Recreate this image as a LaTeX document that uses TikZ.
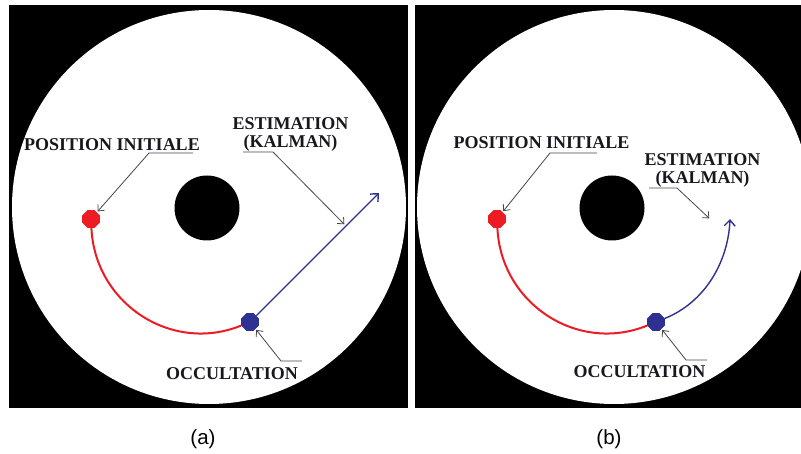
\documentclass[tikz,border=0pt]{standalone}
\usepackage{fontspec}
\setmainfont{Liberation Serif}
\newfontfamily\capfont{Liberation Sans}
\usepackage{tikz}
\usetikzlibrary{positioning, arrows.meta, shapes.geometric}
\definecolor{dotred}{RGB}{237,28,36}
\definecolor{dotblue}{RGB}{46,49,146}
\definecolor{leadgray}{RGB}{70,70,70}
\definecolor{labelink}{RGB}{25,22,30}

\begin{document}
\begin{tikzpicture}[x=1pt, y=1pt,
  reddot/.style={regular polygon, regular polygon sides=8, fill=dotred,
                 minimum size=19pt, inner sep=0pt},
  bluedot/.style={reddot, fill=dotblue},
  redpath/.style={draw=dotred, line width=2pt},
  bluepath/.style={draw=dotblue, line width=1.4pt,
                   -{Straight Barb[length=6pt, width=11pt]}},
  lead/.style={draw=leadgray, line width=0.8pt, shorten >=1pt,
               -{Straight Barb[length=5pt, width=9pt]}},
  lbl/.style={font=\fontsize{18}{18}\selectfont\bfseries, text=labelink,
              inner sep=0pt, align=center},
  subcap/.style={font=\capfont\fontsize{20.5}{24}\selectfont, inner sep=0pt, anchor=base}
]
\useasboundingbox (0,0) rectangle (801,453);

\fill[black] (9,45) rectangle (408,448);
\fill[white] (209,246) circle[radius=197];
\fill[black] (207,245) circle[radius=32.5];

\fill[black] (415,45) rectangle (801,448);
\fill[white] (614,246) circle[radius=197];
\fill[black] (612,245) circle[radius=32.5];

\node[reddot]  (inia) at (91,234) {};
\node[bluedot] (occa) at (250,131) {};
\coordinate (tipa) at (379,260);
\coordinate (esta) at (345,228);

\node[reddot]  (inib) at (497,234) {};
\node[bluedot] (occb) at (656,131) {};
\coordinate (tipb) at (730,234);
\coordinate (estb) at (710,234);

\draw[redpath]  (inia) to[out=-87.5, in=202, looseness=1.08] (occa);
\draw[bluepath] (occa) -- (tipa);
\draw[redpath]  (inib) to[out=-87.5, in=202, looseness=1.08] (occb);
\draw[bluepath] (occb) to[out=22, in=267.5, looseness=0.93] (tipb);

\node[lbl, anchor=base]  (posa) at (112,302) {POSITION INITIALE};
\node[lbl, anchor=north] (kala) at (290.5,336) {ESTIMATION\\(KALMAN)};
\node[lbl, anchor=base]  (occta) at (232,74) {OCCULTATION};

\node[lbl, anchor=base]  (posb) at (541.5,304) {POSITION INITIALE};
\node[lbl, anchor=north] (kalb) at (702.5,300) {ESTIMATION\\(KALMAN)};
\node[lbl, anchor=base]  (occtb) at (639.5,76) {OCCULTATION};

\coordinate (posa1) at (193,300);
\coordinate (posa2) at (149,300);
\coordinate (kala1) at (243,301);
\coordinate (kala2) at (273,301);
\coordinate (occa1) at (302,92);
\coordinate (occa2) at (281,92);

\coordinate (posb1) at (597,300);
\coordinate (posb2) at (550,300);
\coordinate (kalb1) at (649,265);
\coordinate (kalb2) at (677,265);
\coordinate (occb1) at (707,93);
\coordinate (occb2) at (686,93);

\draw[lead] (posa1) -- (posa2) -- (inia);
\draw[lead] (kala1) -- (kala2) -- (esta);
\draw[lead] (occa1) -- (occa2) -- (occa);

\draw[lead] (posb1) -- (posb2) -- (inib);
\draw[lead] (kalb1) -- (kalb2) -- (estb);
\draw[lead] (occb1) -- (occb2) -- (occb);

\node[subcap] (capa) at (203,9) {(a)};
\node[subcap] (capb) at (609,9) {(b)};

\end{tikzpicture}
\end{document}
